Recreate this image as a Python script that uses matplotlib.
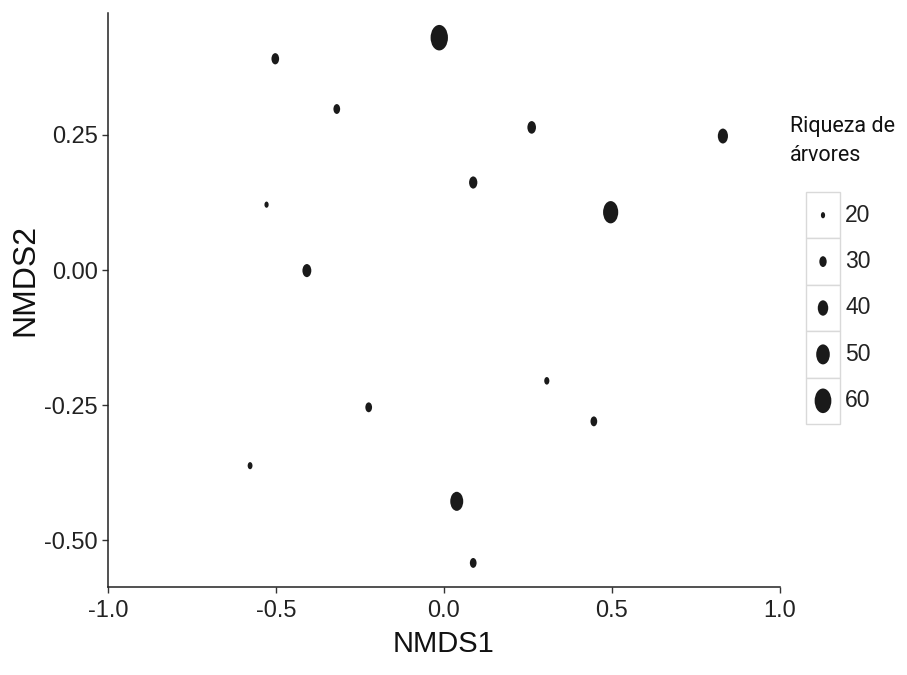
import numpy as np
import matplotlib
matplotlib.use("Agg")
import matplotlib.pyplot as plt
from matplotlib import font_manager
from matplotlib.path import Path
from matplotlib.patches import Rectangle

# ------------------------------------------------------------
# Data
# ------------------------------------------------------------
nmds1 = [-0.014, -0.502, -0.319, 0.261, 0.830, 0.087, -0.528, 0.496,
         -0.408, 0.306, -0.224, 0.446, -0.577, 0.038, 0.087]
nmds2 = [0.430, 0.391, 0.298, 0.264, 0.248, 0.162, 0.121, 0.107,
         -0.001, -0.205, -0.254, -0.280, -0.362, -0.428, -0.542]
riqueza = [62, 31, 28, 34, 39, 33, 20, 55, 35, 23, 28, 28, 22, 48, 28]

legend_values = [20, 30, 40, 50, 60]
x_ticks = [-1.0, -0.5, 0.0, 0.5, 1.0]
y_ticks = [-0.50, -0.25, 0.00, 0.25]

# ------------------------------------------------------------
# Fonts
# ------------------------------------------------------------
names = {f.name for f in font_manager.fontManager.ttflist}
narrow = "Liberation Sans Narrow" if "Liberation Sans Narrow" in names else "Liberation Sans"
title_font = "Roboto" if "Roboto" in names else "DejaVu Sans"

# the reference is squeezed sideways, so the dots are taller than wide
circle = Path.unit_circle()
oval = Path(circle.vertices * np.array([0.68, 1.0]), circle.codes)


def marker_area(v):
    height_px = 0.46 * v - 3
    return (height_px * 0.72) ** 2


fig = plt.figure(figsize=(9.07, 6.75), dpi=100)
ax = fig.add_axes([0.119, 0.130, 0.741, 0.851])

ax.scatter(nmds1, nmds2, s=[marker_area(v) for v in riqueza],
           marker=oval, color="#1a1a1a", linewidths=0)

ax.set_xlim(-1.0, 1.0)
ax.set_ylim(-0.587, 0.476)
ax.set_xticks(x_ticks)
ax.set_xticklabels([f"{t:.1f}" for t in x_ticks])
ax.set_yticks(y_ticks)
ax.set_yticklabels([f"{t:.2f}" for t in y_ticks])

for side in ["top", "right"]:
    ax.spines[side].set_visible(False)
for side in ["left", "bottom"]:
    ax.spines[side].set_color("#222222")
    ax.spines[side].set_linewidth(1.1)

ax.tick_params(direction="out", length=4, width=1, color="#333333",
               labelcolor="#222222", labelsize=17)
ax.tick_params(axis="x", pad=5)
for lab in ax.get_xticklabels() + ax.get_yticklabels():
    lab.set_fontfamily(narrow)

ax.set_xlabel("NMDS1", fontsize=21, family=narrow, color="#111111", labelpad=6)
ax.set_ylabel("NMDS2", fontsize=23, family="Liberation Sans", color="#111111")
ax.yaxis.set_label_coords(-0.10, 0.535)

# ------------------------------------------------------------
# Legend (ggplot-style keys)
# ------------------------------------------------------------
fig.text(0.871, 0.791, "Riqueza de\nárvores", fontsize=15.5, family=title_font,
         color="#111111", va="center", ha="left", linespacing=1.5)

lax = fig.add_axes([806 / 907, 1 - 424 / 675, 34 / 907, 232 / 675])
lax.set_xlim(0, 1)
lax.set_ylim(len(legend_values), 0)
lax.axis("off")
for i, v in enumerate(legend_values):
    lax.add_patch(Rectangle((0, i), 1, 1, facecolor="white",
                            edgecolor="#d9d9d9", linewidth=1, clip_on=False))
lax.scatter([0.5] * len(legend_values), np.arange(len(legend_values)) + 0.5,
            s=[marker_area(v) for v in legend_values], marker=oval,
            color="#1a1a1a", linewidths=0, zorder=3, clip_on=False)
for i, v in enumerate(legend_values):
    lax.text(1.15, i + 0.5, str(v), fontsize=16.5, family=narrow,
             color="#222222", va="center", ha="left")

fig.savefig("out.png", dpi=100)
